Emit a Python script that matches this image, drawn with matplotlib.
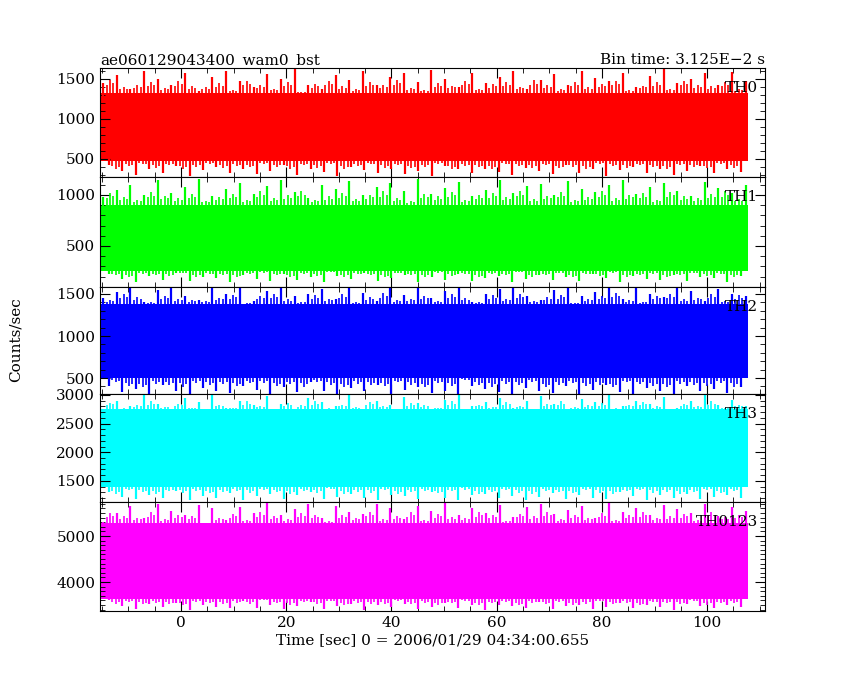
import matplotlib
matplotlib.use("Agg")
import matplotlib.pyplot as plt
import numpy as np

t_start, t_end = -15.3, 107.8
labels = ["TH0", "TH1", "TH2", "TH3", "TH0123"]
colors = ["#ff0000", "#00ff00", "#0000ff", "#00ffff", "#ff00ff"]
ylims = [(275, 1637), (98, 1176), (310, 1583), (1133, 3017), (3370, 5739)]
yticks = [[500, 1000, 1500], [500, 1000], [500, 1000, 1500], [1500, 2000, 2500, 3000], [4000, 5000]]
# dense core band of each series (lower, upper)
core = [(470, 1330), (250, 900), (500, 1380), (1400, 2750), (3620, 5280)]

th0_hi = [1450,1550,1380,1600,1500,1420,1580,1350,1520,1600,1470,1400,1560,1500,1620,1430,1380,1550,1490,1600,1420,1520,1580,1460,1610,1500,1400,1570,1450,1530,1600,1380,1490,1560,1420,1600,1510,1470,1580,1400,1540,1620,1450,1500,1570,1430,1590,1480]
th0_lo = [420,350,300,380,330,410,290,360,400,320,380,310,350,420,300,370,340,290,400,360,330,380,310,350,290,410,370,320,380,340,300,390,350,310,420,330,370,290,360,400,320,380,300,350,410,330,370,340]
th1_hi = [980,1050,1100,1000,1150,1020,1080,1160,990,1060,1120,1010,1090,1150,1030,970,1100,1060,1140,1000,1080,1120,1040,1160,1010,1070,1130,990,1050,1150,1020,1090,1110,1000,1140,1060,1030,1100,1150,1010,1080,1120,1040,990,1130,1070,1020,1100]
th1_lo = [230,180,150,210,170,240,160,200,190,150,220,180,160,230,170,200,150,210,180,240,160,190,220,150,200,170,230,160,190,210,150,180,220,170,200,160,230,190,150,210,180,170,220,160,200,190,150,210]
th2_hi = [1450,1520,1580,1400,1550,1600,1480,1430,1570,1500,1590,1420,1540,1610,1470,1500,1560,1440,1590,1510,1420,1570,1490,1600,1450,1530,1580,1410,1500,1560,1620,1470,1430,1550,1590,1480,1520,1600,1440,1570,1500,1460,1590,1530,1420,1560,1500,1470]
th2_lo = [400,330,370,310,420,350,300,380,340,320,410,360,300,390,330,450,350,310,380,340,420,300,360,390,320,350,300,410,370,330,300,380,350,320,400,310,360,420,330,300,380,350,310,400,340,370,320,390]
th3_hi = [2750,2900,2800,3000,2850,2700,2950,2880,3000,2780,2900,2820,2980,2850,2720,2950,2880,2800,3000,2750,2900,2830,2970,2860,2740,2920,3000,2810,2880,2950,2780,2900,2990,2840,2760,2930,2870,3000,2800,2900,2850,2960,2780,2890,3000,2830,2920,2800]
th3_lo = [1300,1220,1180,1260,1200,1320,1170,1240,1210,1290,1160,1230,1270,1190,1250,1310,1180,1220,1280,1200,1160,1260,1230,1190,1300,1210,1170,1250,1280,1200,1240,1160,1220,1290,1190,1260,1210,1180,1300,1230,1170,1250,1200,1270,1190,1220,1260,1210]
th123_hi = [5300,5500,5650,5400,5700,5550,5450,5680,5600,5350,5620,5500,5720,5450,5580,5700,5400,5650,5520,5480,5700,5600,5380,5660,5550,5720,5450,5600,5500,5680,5420,5620,5700,5480,5560,5650,5400,5720,5530,5600,5460,5680,5580,5500,5700,5440,5620,5550]
th123_lo = [3600,3480,3420,3520,3450,3550,3400,3500,3460,3430,3580,3440,3500,3410,3480,3560,3420,3470,3530,3400,3490,3450,3520,3410,3460,3550,3430,3490,3400,3510,3470,3440,3560,3420,3480,3500,3410,3460,3540,3430,3490,3450,3400,3520,3470,3440,3500,3460]

his = [th0_hi, th1_hi, th2_hi, th3_hi, th123_hi]
los = [th0_lo, th1_lo, th2_lo, th3_lo, th123_lo]

plt.rcParams['font.family'] = ['DejaVu Serif']
fig = plt.figure(figsize=(8.5, 6.8), dpi=100)
L, R = 100/850, 765/850
edges_px = [68, 177, 287, 394, 502, 611]
axes = []
for i in range(5):
    top = 1 - edges_px[i]/680
    bot = 1 - edges_px[i+1]/680
    ax = fig.add_axes([L, bot, R-L, top-bot])
    hi = np.array(his[i]); lo = np.array(los[i])
    n = len(hi)
    c_lo, c_hi = core[i]
    ax.fill_between([t_start, t_end], c_lo, c_hi, color=colors[i], lw=0)
    xh = np.linspace(t_start + 0.5, t_end - 0.5, n)
    xl = np.linspace(t_start + 1.6, t_end - 1.4, n)
    ax.vlines(xh, c_hi - 50, hi, color=colors[i], lw=1.6)
    ax.vlines(xl, lo, c_lo + 50, color=colors[i], lw=1.6)
    # shorter spikes between main ones, drawn from neighbouring values
    for frac, shift in ((0.25, 0.33), (0.5, 0.55), (0.75, 0.4)):
        xm = xh[:-1] + (xh[1:] - xh[:-1]) * frac
        ym = c_hi + (np.roll(hi, 7)[:-1] - c_hi) * shift
        ax.vlines(xm, c_hi - 50, ym, color=colors[i], lw=1.2)
        xml = xl[:-1] + (xl[1:] - xl[:-1]) * frac
        yml = c_lo - (c_lo - np.roll(lo, 11)[:-1]) * shift
        ax.vlines(xml, yml, c_lo + 50, color=colors[i], lw=1.2)
    ax.set_xlim(-15.4, 111.0)
    ax.set_ylim(*ylims[i])
    ax.set_yticks(yticks[i])
    ax.set_xticks(np.arange(0, 101, 20))
    ax.xaxis.set_minor_locator(matplotlib.ticker.MultipleLocator(5))
    ax.yaxis.set_minor_locator(matplotlib.ticker.MultipleLocator(100))
    ax.tick_params(which='both', direction='in', top=True, right=True, labelsize=11)
    ax.tick_params(which='major', length=7)
    ax.tick_params(which='minor', length=3.5)
    if i < 4:
        ax.tick_params(labelbottom=False)
    ax.text(0.99, 0.88, labels[i], transform=ax.transAxes, ha='right', va='top', fontsize=11)
    axes.append(ax)

axes[0].set_title("ae060129043400_wam0_bst", loc='left', fontsize=11, pad=3)
axes[0].set_title("Bin time: 3.125E\u22122 s", loc='right', fontsize=11, pad=3)
axes[4].set_xlabel("Time [sec] 0 = 2006/01/29 04:34:00.655", fontsize=11, labelpad=2)
fig.text(0.018, 0.5, "Counts/sec", rotation=90, va='center', ha='center', fontsize=11)
fig.savefig("out.png", dpi=100)
